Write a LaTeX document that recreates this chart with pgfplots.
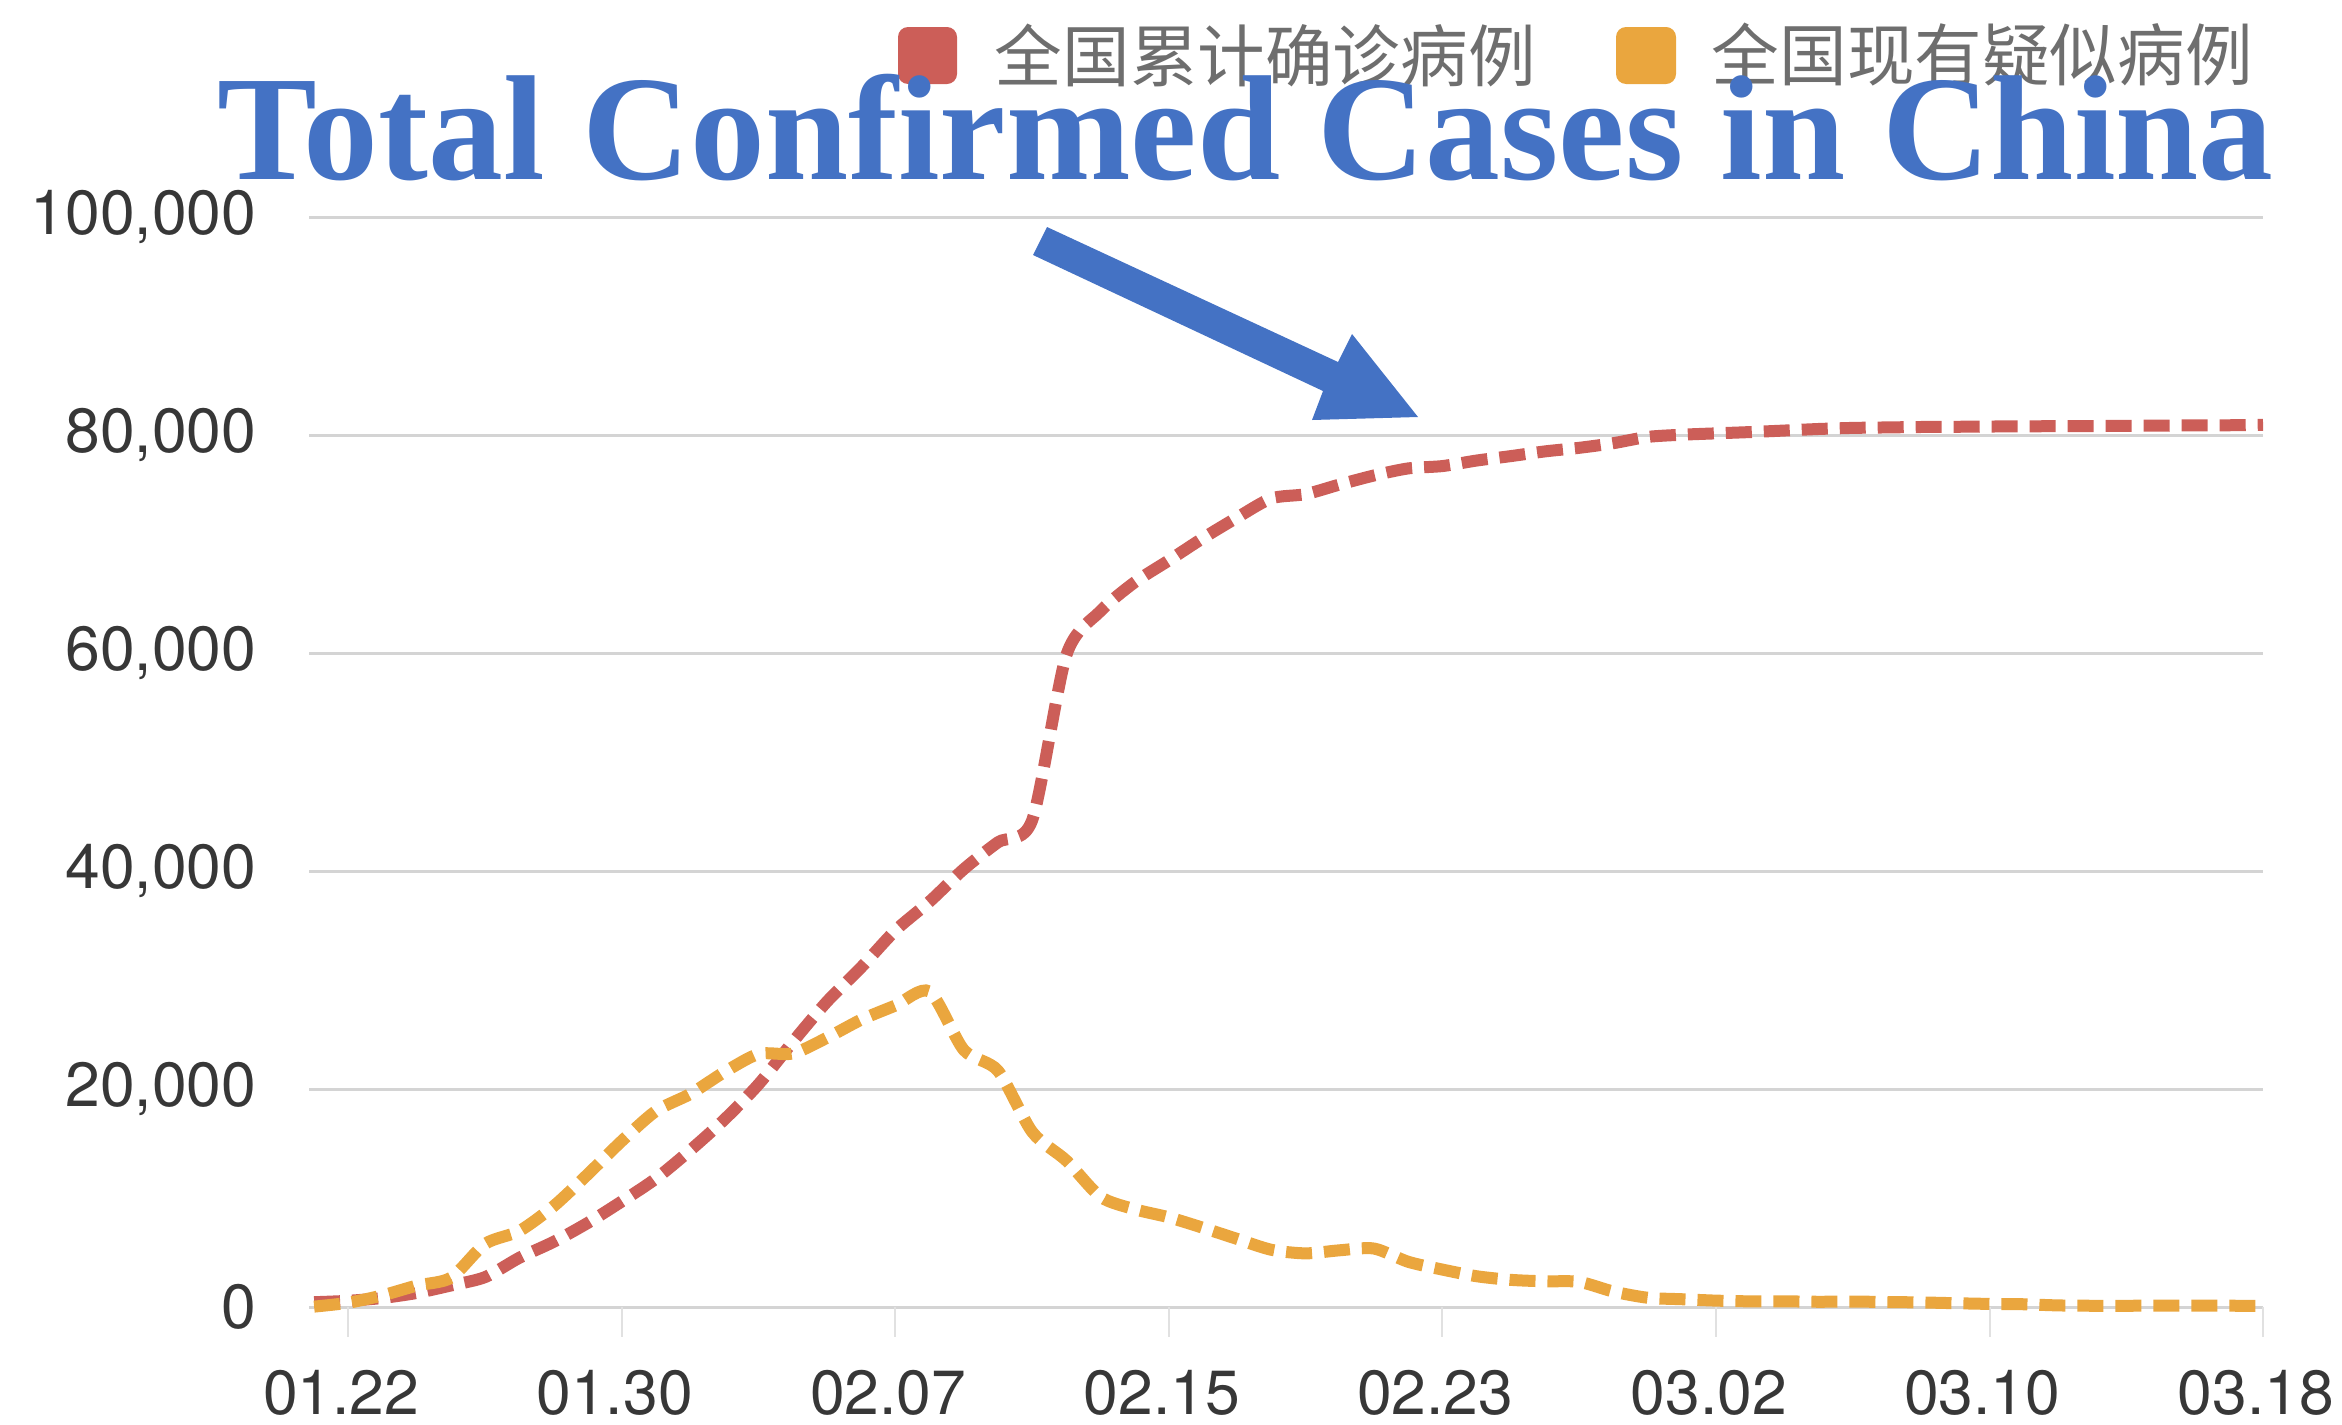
\documentclass[border=0pt]{standalone}
\usepackage{pgfplots}
\pgfplotsset{compat=1.18}
\usepackage{fontspec}
\setmainfont{TeX Gyre Heros}
\newfontfamily\titlefont{Liberation Serif}
\newfontfamily\cjk{Noto Sans CJK SC}
\definecolor{redc}{RGB}{204,94,88}
\definecolor{orac}{RGB}{234,166,62}
\definecolor{ttl}{RGB}{68,114,196}
\definecolor{lbl}{RGB}{55,55,55}
\definecolor{leg}{RGB}{110,110,110}
\definecolor{grd}{RGB}{212,212,212}
\definecolor{tck}{RGB}{225,225,225}
\begin{document}
\begin{tikzpicture}
\begin{axis}[
  at={(77.25pt,-326.75pt)}, anchor=south west,
  scale only axis, width=488.5pt, height=272.5pt,
  xmin=-1.15, xmax=56, ymin=0, ymax=100000,
  scaled y ticks=false,
  axis line style={draw=none},
  ymajorgrids, major grid style={draw=grd, line width=0.75pt},
  xtick={0,8,...,56},
  xticklabels={01.22,01.30,02.07,02.15,02.23,03.02,03.10,03.18},
  ytick={0,20000,40000,60000,80000,100000},
  yticklabels={0,{20,000},{40,000},{60,000},{80,000},{100,000}},
  tick align=outside, major tick length=7.5pt,
  xtick pos=lower,
  xtick style={draw=tck, line width=0.5pt},
  ytick style={draw=none},
  ticklabel style={font=\fontsize{15.6pt}{17pt}\selectfont, text=lbl},
  xticklabel style={anchor=north, inner sep=0pt, yshift=-8pt, xshift=-1.8pt},
  yticklabel style={anchor=east, inner sep=0pt, xshift=-5.5pt},
  clip=false,
]
\addplot[redc, line width=3pt, smooth, tension=0.45, dash pattern=on 6.5pt off 3pt] coordinates {
(-1,440) (0,571) (1,830) (2,1287) (3,1975) (4,2744) (5,4515) (6,5974) (7,7711) (8,9692) (9,11791) (10,14380) (11,17205) (12,20438) (13,24324) (14,28018) (15,31161) (16,34546) (17,37198) (18,40171) (19,42638) (20,44653) (21,59804) (22,63851) (23,66492) (24,68500) (25,70548) (26,72436) (27,74185) (28,74576) (29,75465) (30,76288) (31,76936) (32,77150) (33,77658) (34,78064) (35,78497) (36,78824) (37,79251) (38,79824) (39,80026) (40,80151) (41,80270) (42,80409) (43,80552) (44,80651) (45,80695) (46,80735) (47,80754) (48,80778) (49,80793) (50,80813) (51,80824) (52,80844) (53,80860) (54,80881) (55,80894) (56,80928)
};
\addplot[orac, line width=3pt, smooth, tension=0.45, dash pattern=on 6.5pt off 3pt] coordinates {
(-1,37) (0,393) (1,1072) (2,1965) (3,2684) (4,5794) (5,6973) (6,9239) (7,12167) (8,15238) (9,17988) (10,19544) (11,21558) (12,23214) (13,23260) (14,24702) (15,26359) (16,27657) (17,28942) (18,23589) (19,21675) (20,16067) (21,13435) (22,10109) (23,8969) (24,8228) (25,7264) (26,6242) (27,5248) (28,4922) (29,5206) (30,5365) (31,4148) (32,3434) (33,2824) (34,2491) (35,2358) (36,2308) (37,1418) (38,851) (39,715) (40,587) (41,520) (42,522) (43,482) (44,502) (45,458) (46,421) (47,349) (48,285) (49,253) (50,147) (51,115) (52,113) (53,134) (54,128) (55,119) (56,105)
};
\end{axis}
\begin{scope}[x=0.25pt,y=-0.25pt]
\path[use as bounding box] (0,0) rectangle (2342,1424);
% legend
\fill[redc, rounded corners=2.5pt] (898,27) rectangle (957,84);
\node[anchor=west, inner sep=0pt, text=leg, font=\cjk\fontsize{16.9pt}{18pt}\selectfont] at (994,55) {全国累计确诊病例};
\fill[orac, rounded corners=2.5pt] (1616,27) rectangle (1676,84);
\node[anchor=west, inner sep=0pt, text=leg, font=\cjk\fontsize{16.9pt}{18pt}\selectfont] at (1711,55) {全国现有疑似病例};
% title
\node[anchor=base west, inner sep=0pt, text=ttl, font=\titlefont\bfseries\fontsize{37.4pt}{40pt}\selectfont] at (217,179) {Total Confirmed Cases in China};
% arrow
\fill[ttl] (1047,227) -- (1338,362) -- (1352,334) -- (1418,417) -- (1312,420) -- (1323,391) -- (1033,255) -- cycle;
\end{scope}
\end{tikzpicture}
\end{document}
